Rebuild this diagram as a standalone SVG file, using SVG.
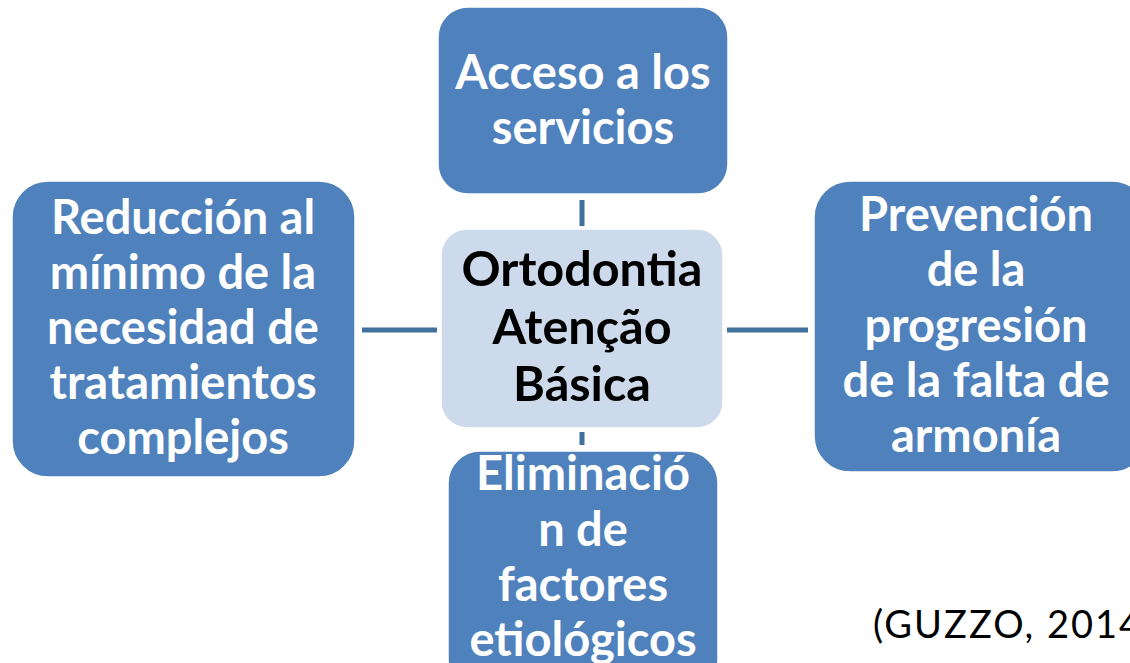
<svg xmlns="http://www.w3.org/2000/svg" width="1130" height="663" viewBox="0 0 1130 663">
<style>
.box{fill:#4F81BD;stroke:#FFFFFF;stroke-width:1.5}
.center{fill:#CCDAEB;stroke:#FFFFFF;stroke-width:1.5}
.wt{font-family:Lato,"Open Sans",sans-serif;font-weight:bold;font-size:47px;fill:#FFFFFF;text-anchor:middle}
.bt{font-family:Lato,"Open Sans",sans-serif;font-weight:bold;font-size:48.5px;fill:#000000;text-anchor:middle}
.conn{stroke:#41719C;stroke-width:5;fill:none}
.cite{font-family:Lato,"Open Sans",sans-serif;font-size:38px;letter-spacing:2px;fill:#000000}
</style>
<rect width="1130" height="663" fill="#FFFFFF"/>
<g id="connectors">
<line class="conn" x1="582" y1="200" x2="582" y2="226"/>
<line class="conn" x1="582" y1="432" x2="582" y2="445"/>
<line class="conn" x1="362" y1="330" x2="437" y2="330"/>
<line class="conn" x1="727" y1="330" x2="808" y2="330"/>
</g>
<g id="center">
<rect class="center" x="441" y="229" width="282" height="199" rx="26"/>
<text class="bt" x="582" y="286">Ortodontia</text>
<text class="bt" x="582" y="344">Atenção</text>
<text class="bt" x="582" y="401">Básica</text>
</g>
<g id="top">
<rect class="box" x="438" y="7" width="290" height="187" rx="30"/>
<text class="wt" x="583" y="89">Acceso a los</text>
<text class="wt" x="583" y="144">servicios</text>
</g>
<g id="left">
<rect class="box" x="12" y="181" width="343" height="296" rx="36"/>
<text class="wt" x="183" y="234">Reducción al</text>
<text class="wt" x="183" y="289">mínimo de la</text>
<text class="wt" x="183" y="344">necesidad de</text>
<text class="wt" x="183" y="399">tratamientos</text>
<text class="wt" x="183" y="454">complejos</text>
</g>
<g id="right">
<rect class="box" x="814" y="181" width="334" height="291" rx="36"/>
<text class="wt" x="976" y="231">Prevención</text>
<text class="wt" x="976" y="286">de la</text>
<text class="wt" x="976" y="342">progresión</text>
<text class="wt" x="976" y="397">de la falta de</text>
<text class="wt" x="976" y="452">armonía</text>
</g>
<g id="bottom">
<rect class="box" x="448" y="451" width="270" height="240" rx="32"/>
<text class="wt" x="583" y="490">Eliminació</text>
<text class="wt" x="583" y="546">n de</text>
<text class="wt" x="583" y="601">factores</text>
<text class="wt" x="583" y="656">etiológicos</text>
</g>
<text class="cite" x="873" y="638">(GUZZO, 2014</text>
</svg>
